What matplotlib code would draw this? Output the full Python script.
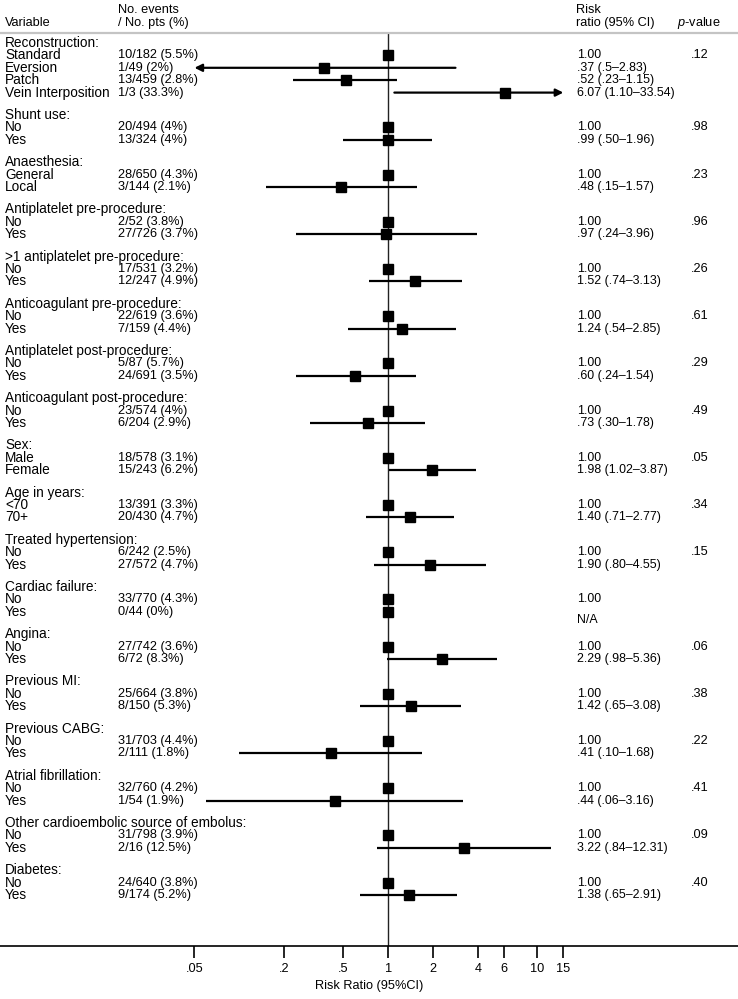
import matplotlib
matplotlib.use("Agg")
import matplotlib.pyplot as plt
from matplotlib.ticker import FixedLocator, NullLocator, FixedFormatter
import matplotlib.transforms as mtransforms

plt.rcParams['font.family'] = ['Liberation Sans', 'DejaVu Sans']
plt.rcParams['mathtext.fontset'] = 'custom'
plt.rcParams['mathtext.it'] = 'Liberation Sans:italic'
plt.rcParams['mathtext.rm'] = 'Liberation Sans'

# ---------------- data ----------------
groups = [
    "Reconstruction:", "Shunt use:", "Anaesthesia:", "Antiplatelet pre-procedure:",
    ">1 antiplatelet pre-procedure:", "Anticoagulant pre-procedure:",
    "Antiplatelet post-procedure:", "Anticoagulant post-procedure:", "Sex:",
    "Age in years:", "Treated hypertension:", "Cardiac failure:", "Angina:",
    "Previous MI:", "Previous CABG:", "Atrial fibrillation:",
    "Other cardioembolic source of embolus:", "Diabetes:",
]
levels = [
    ["Standard", "Eversion", "Patch", "Vein Interposition"],
    ["No", "Yes"], ["General", "Local"], ["No", "Yes"], ["No", "Yes"],
    ["No", "Yes"], ["No", "Yes"], ["No", "Yes"], ["Male", "Female"],
    ["<70", "70+"], ["No", "Yes"], ["No", "Yes"], ["No", "Yes"],
    ["No", "Yes"], ["No", "Yes"], ["No", "Yes"], ["No", "Yes"], ["No", "Yes"],
]
events = [
    ["10/182 (5.5%)", "1/49 (2%)", "13/459 (2.8%)", "1/3 (33.3%)"],
    ["20/494 (4%)", "13/324 (4%)"],
    ["28/650 (4.3%)", "3/144 (2.1%)"],
    ["2/52 (3.8%)", "27/726 (3.7%)"],
    ["17/531 (3.2%)", "12/247 (4.9%)"],
    ["22/619 (3.6%)", "7/159 (4.4%)"],
    ["5/87 (5.7%)", "24/691 (3.5%)"],
    ["23/574 (4%)", "6/204 (2.9%)"],
    ["18/578 (3.1%)", "15/243 (6.2%)"],
    ["13/391 (3.3%)", "20/430 (4.7%)"],
    ["6/242 (2.5%)", "27/572 (4.7%)"],
    ["33/770 (4.3%)", "0/44 (0%)"],
    ["27/742 (3.6%)", "6/72 (8.3%)"],
    ["25/664 (3.8%)", "8/150 (5.3%)"],
    ["31/703 (4.4%)", "2/111 (1.8%)"],
    ["32/760 (4.2%)", "1/54 (1.9%)"],
    ["31/798 (3.9%)", "2/16 (12.5%)"],
    ["24/640 (3.8%)", "9/174 (5.2%)"],
]
rr = [
    [1.00, 0.37, 0.52, 6.07], [1.00, 0.99], [1.00, 0.48], [1.00, 0.97],
    [1.00, 1.52], [1.00, 1.24], [1.00, 0.60], [1.00, 0.73], [1.00, 1.98],
    [1.00, 1.40], [1.00, 1.90], [1.00, 1.00], [1.00, 2.29], [1.00, 1.42],
    [1.00, 0.41], [1.00, 0.44], [1.00, 3.22], [1.00, 1.38],
]
ci_lo = [
    [None, 0.045, 0.23, 1.10], [None, 0.50], [None, 0.15], [None, 0.24],
    [None, 0.74], [None, 0.54], [None, 0.24], [None, 0.30], [None, 1.02],
    [None, 0.71], [None, 0.80], [None, None], [None, 0.98], [None, 0.65],
    [None, 0.10], [None, 0.06], [None, 0.84], [None, 0.65],
]
ci_hi = [
    [None, 2.83, 1.15, 33.54], [None, 1.96], [None, 1.57], [None, 3.96],
    [None, 3.13], [None, 2.85], [None, 1.54], [None, 1.78], [None, 3.87],
    [None, 2.77], [None, 4.55], [None, None], [None, 5.36], [None, 3.08],
    [None, 1.68], [None, 3.16], [None, 12.31], [None, 2.91],
]
rr_text = [
    ["1.00", ".37 (.5\u20132.83)", ".52 (.23\u20131.15)", "6.07 (1.10\u201333.54)"],
    ["1.00", ".99 (.50\u20131.96)"],
    ["1.00", ".48 (.15\u20131.57)"],
    ["1.00", ".97 (.24\u20133.96)"],
    ["1.00", "1.52 (.74\u20133.13)"],
    ["1.00", "1.24 (.54\u20132.85)"],
    ["1.00", ".60 (.24\u20131.54)"],
    ["1.00", ".73 (.30\u20131.78)"],
    ["1.00", "1.98 (1.02\u20133.87)"],
    ["1.00", "1.40 (.71\u20132.77)"],
    ["1.00", "1.90 (.80\u20134.55)"],
    ["1.00", "N/A"],
    ["1.00", "2.29 (.98\u20135.36)"],
    ["1.00", "1.42 (.65\u20133.08)"],
    ["1.00", ".41 (.10\u20131.68)"],
    ["1.00", ".44 (.06\u20133.16)"],
    ["1.00", "3.22 (.84\u201312.31)"],
    ["1.00", "1.38 (.65\u20132.91)"],
]
p_values = [".12", ".98", ".23", ".96", ".26", ".61", ".29", ".49", ".05",
            ".34", ".15", "", ".06", ".38", ".22", ".41", ".09", ".40"]
tick_values = [0.05, 0.2, 0.5, 1, 2, 4, 6, 10, 15]
tick_labels = [".05", ".2", ".5", "1", "2", "4", "6", "10", "15"]
clip_lo, clip_hi = 0.05, 15

# ---------------- layout ----------------
W, H = 738, 999
FS = 9.2
FS_VAR = 9.8
FS_RR = 8.9

fig = plt.figure(figsize=(W / 100, H / 100), dpi=100)
top_px, axis_px = 33, 946
ax = fig.add_axes([0, 1 - axis_px / H, 1, (axis_px - top_px) / H])
ax.set_xscale('log')
center_px, decade_px = 388.2, 148.9
ax.set_xlim(10 ** (-center_px / decade_px), 10 ** ((W - center_px) / decade_px))
ax.set_ylim(axis_px, top_px)

for s in ['left', 'right']:
    ax.spines[s].set_visible(False)
ax.spines['top'].set_color('#c4c4c4')
ax.spines['top'].set_linewidth(1.6)
ax.spines['bottom'].set_linewidth(1.2)
ax.yaxis.set_major_locator(NullLocator())
ax.xaxis.set_major_locator(FixedLocator(tick_values))
ax.xaxis.set_major_formatter(FixedFormatter(tick_labels))
ax.xaxis.set_minor_locator(NullLocator())
ax.tick_params(axis='x', length=8.6, width=1.2, pad=4, labelsize=FS)
ax.set_xlabel("Risk Ratio (95%CI)", fontsize=FS, labelpad=3)

ax.axvline(1, color='#222222', lw=1.0, zorder=1)

trans = mtransforms.blended_transform_factory(ax.transAxes, ax.transData)

def tx(px, y, s, size=FS, **kw):
    ax.text(px / W, y, s, transform=trans, fontsize=size, va='center', ha='left',
            clip_on=False, **kw)

def ftext(px, py, s, size=FS, **kw):
    fig.text(px / W, 1 - py / H, s, fontsize=size, va='center', ha='left', **kw)

# column headers
ftext(5, 23, "Variable")
ftext(118, 10, "No. events")
ftext(118, 23, "/ No. pts (%)")
ftext(576, 10, "Risk")
ftext(576, 23, "ratio (95% CI)")
ftext(677, 23, "$\\it{p}$-value")

step, gap = 12.4, 10.0
y = 43.0
for g, name in enumerate(groups):
    tx(5, y, name, size=FS_VAR)
    for k, lev in enumerate(levels[g]):
        y += step
        tx(5, y, lev, size=FS_VAR)
        tx(118, y, events[g][k])
        dy = 8 if rr_text[g][k] == "N/A" else 0
        tx(577, y + dy, rr_text[g][k], size=FS_RR)
        if k == 0:
            tx(691, y, p_values[g])
        lo, hi = ci_lo[g][k], ci_hi[g][k]
        if lo is not None:
            lo_c, hi_c = max(lo, clip_lo), min(hi, clip_hi)
            if lo < clip_lo:
                ax.annotate('', xy=(lo_c, y), xytext=(hi_c, y),
                            arrowprops=dict(arrowstyle='-|>', lw=1.6, color='black',
                                            mutation_scale=11, shrinkA=0, shrinkB=0),
                            zorder=2)
            elif hi > clip_hi:
                ax.annotate('', xy=(hi_c, y), xytext=(lo_c, y),
                            arrowprops=dict(arrowstyle='-|>', lw=1.6, color='black',
                                            mutation_scale=11, shrinkA=0, shrinkB=0),
                            zorder=2)
            else:
                ax.plot([lo_c, hi_c], [y, y], color='black', lw=1.6,
                        solid_capstyle='butt', zorder=2)
        ax.plot([rr[g][k]], [y], marker='s', color='black', markersize=7.4,
                linestyle='none', zorder=3)
    y += gap + step

fig.savefig("out.png", dpi=100)
